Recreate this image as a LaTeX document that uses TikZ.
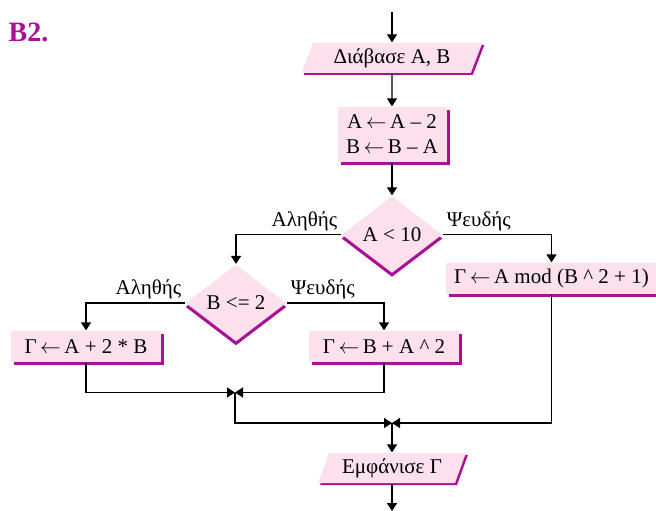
\documentclass[tikz,border=0pt]{standalone}
\usepackage{fontspec}
\setmainfont{Liberation Serif}
\usetikzlibrary{shapes.geometric,shadows,arrows.meta}
\definecolor{pinkfill}{RGB}{252,224,236}
\definecolor{mag}{RGB}{168,16,150}
\newcommand{\assignto}{\,$\leftarrow$\,}
\begin{document}
\begin{tikzpicture}[x=1pt,y=-1pt,line width=1.3pt,>={Triangle[length=8pt,width=10pt]},
    font=\fontsize{21}{25}\selectfont,
    box/.style={rectangle,fill=pinkfill,inner sep=0pt,
        drop shadow={shadow xshift=3pt,shadow yshift=-3pt,fill=mag,opacity=1}},
    io/.style={trapezium,trapezium left angle=66,trapezium right angle=114,
        trapezium stretches=true,fill=pinkfill,inner sep=0pt,minimum height=30pt,
        drop shadow={shadow xshift=2pt,shadow yshift=-2pt,fill=mag,opacity=1}},
    test/.style={diamond,fill=pinkfill,inner sep=0pt,minimum width=101pt,minimum height=77pt,
        drop shadow={shadow xshift=0pt,shadow yshift=-4pt,fill=mag,opacity=1}},
    lbl/.style={inner sep=3pt}]
            \useasboundingbox(0,0)rectangle(656,511);
            \node[anchor=base west,inner sep=0pt,text=mag,font=\fontsize{28}{28}\selectfont\bfseries](nr)at(8,42){Β2.};
            \coordinate(s)at(392,12);
            \node[io,minimum width=181pt](rd)at(392,58){Διάβασε Α, Β};
            \node[box,minimum width=109pt,minimum height=55pt,align=center](as)at(392,134.5){Α\assignto Α – 2\\Β\assignto Β – Α};
            \node[test](c1)at(392,234.5){Α < 10};
            \node[test](c2)at(236,303){Β <= 2};
            \node[box,minimum width=211pt,minimum height=31pt](g3)at(551.5,278.5){Γ\assignto Α mod (Β \textasciicircum{} 2 + 1)};
            \node[box,minimum width=150pt,minimum height=31pt](g1)at(86,346.5){Γ\assignto Α + 2 * Β};
            \node[box,minimum width=150pt,minimum height=31pt](g2)at(384,346.5){Γ\assignto Β + Α \textasciicircum{} 2};
            \coordinate(j1)at(235,392.5);
            \coordinate(j2)at(392,423);
            \node[io,minimum width=148pt](wr)at(392,468){Εμφάνισε Γ};
            \coordinate(e)at(392,511);
            \draw[->](s)--(rd);
            \draw[->](rd)--(as);
            \draw[->](as)--(c1);
            \draw[->](c1.west)node[lbl,above left]{Αληθής}-|(c2.north);
            \draw[->](c1.east)node[lbl,above right]{Ψευδής}-|(g3.north);
            \draw[->](c2.west)node[lbl,above left]{Αληθής}-|(g1.north);
            \draw[->](c2.east)node[lbl,above right]{Ψευδής}-|(g2.north);
            \draw[->](g1.south)|-(j1);
            \draw[->](g2.south)|-(j1);
            \draw[->](j1)|-(j2);
            \draw[->](g3.south)|-(j2);
            \draw[->](j2)--(wr);
            \draw[->](wr)--(e);
        \end{tikzpicture}
\end{document}
